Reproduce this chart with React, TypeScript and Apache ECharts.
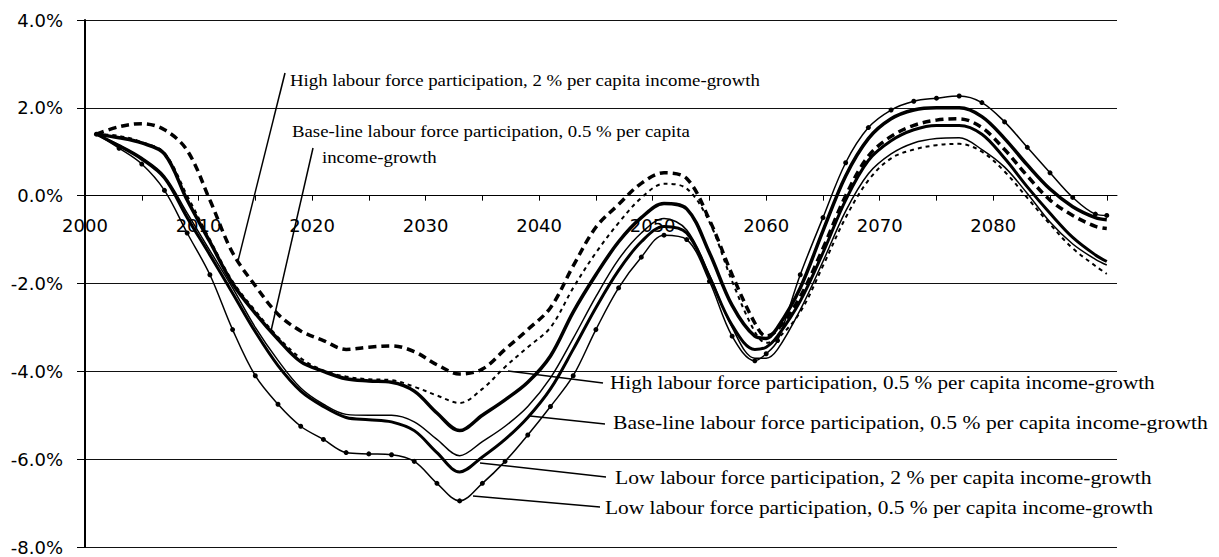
import React, { useEffect, useRef } from "react";
import * as echarts from "echarts";

const years = [2001, 2003, 2005, 2007, 2009, 2011, 2013, 2015, 2017, 2019, 2021, 2023, 2025, 2027, 2029, 2031, 2033, 2035, 2037, 2039, 2041, 2043, 2045, 2047, 2049, 2051, 2053, 2055, 2057, 2059, 2060, 2061, 2063, 2065, 2067, 2069, 2071, 2073, 2075, 2077, 2079, 2081, 2083, 2085, 2087, 2089, 2090];

const highTwo = [1.40, 1.57, 1.64, 1.50, 1.03, -0.10, -1.30, -2.05, -2.70, -3.08, -3.30, -3.50, -3.45, -3.42, -3.55, -3.85, -4.06, -3.95, -3.50, -3.05, -2.55, -1.60, -0.72, -0.20, 0.28, 0.52, 0.39, -0.55, -1.80, -2.90, -3.20, -3.05, -2.30, -1.20, 0.00, 0.90, 1.35, 1.60, 1.72, 1.75, 1.55, 1.05, 0.45, -0.10, -0.45, -0.70, -0.75];
const highHalf = [1.40, 1.36, 1.22, 0.97, 0.00, -1.00, -1.95, -2.62, -3.22, -3.70, -3.98, -4.12, -4.18, -4.20, -4.35, -4.55, -4.72, -4.40, -3.90, -3.45, -3.00, -2.10, -1.30, -0.62, -0.05, 0.27, 0.16, -0.60, -1.95, -3.10, -3.35, -3.25, -2.65, -1.60, -0.50, 0.35, 0.85, 1.05, 1.15, 1.18, 1.00, 0.55, -0.05, -0.65, -1.20, -1.60, -1.78];
const baseUpper = [1.40, 1.32, 1.20, 0.95, -0.10, -1.05, -2.00, -2.68, -3.27, -3.78, -4.00, -4.17, -4.22, -4.25, -4.45, -4.95, -5.35, -5.00, -4.65, -4.25, -3.65, -2.65, -1.80, -1.05, -0.50, -0.18, -0.30, -1.30, -2.50, -3.20, -3.25, -3.00, -2.10, -0.80, 0.45, 1.30, 1.75, 1.95, 2.00, 2.00, 1.80, 1.30, 0.70, 0.15, -0.25, -0.50, -0.55];
const baseLower = [1.40, 1.16, 0.87, 0.45, -0.40, -1.25, -2.10, -3.00, -3.75, -4.38, -4.75, -4.98, -5.00, -5.00, -5.15, -5.55, -5.92, -5.60, -5.25, -4.80, -4.15, -3.25, -2.30, -1.45, -0.85, -0.52, -0.78, -1.80, -3.00, -3.70, -3.70, -3.50, -2.60, -1.50, -0.35, 0.50, 0.95, 1.20, 1.30, 1.32, 1.05, 0.65, 0.05, -0.60, -1.10, -1.45, -1.58];
const lowTwo = [1.40, 1.13, 0.83, 0.40, -0.50, -1.35, -2.22, -3.10, -3.87, -4.45, -4.80, -5.05, -5.10, -5.15, -5.35, -5.85, -6.29, -5.95, -5.55, -5.05, -4.40, -3.50, -2.55, -1.70, -1.05, -0.70, -0.85, -1.85, -2.95, -3.50, -3.45, -3.20, -2.40, -1.30, -0.10, 0.80, 1.25, 1.50, 1.60, 1.60, 1.40, 0.85, 0.20, -0.40, -0.95, -1.35, -1.50];
const lowHalf = [1.40, 1.08, 0.72, 0.12, -0.85, -1.80, -3.05, -4.10, -4.75, -5.25, -5.55, -5.85, -5.88, -5.90, -6.05, -6.55, -6.95, -6.55, -6.05, -5.45, -4.80, -4.10, -3.05, -2.10, -1.40, -0.90, -1.00, -1.95, -3.20, -3.76, -3.60, -3.30, -1.80, -0.50, 0.75, 1.55, 1.95, 2.15, 2.22, 2.27, 2.12, 1.68, 1.10, 0.52, -0.04, -0.42, -0.45];

const xLabelYears = [2000, 2010, 2020, 2030, 2040, 2050, 2060, 2070, 2080];
const xTickYears = [2005, 2010, 2015, 2020, 2025, 2030, 2035, 2040, 2045, 2050, 2055, 2060, 2065, 2070, 2075, 2080, 2085, 2090];

const labelHigh2 = "High labour force participation, 2 % per capita income-growth";
const labelBaseTop1 = "Base-line labour force participation, 0.5 % per capita";
const labelBaseTop2 = "income-growth";
const labelHigh05 = "High labour force participation, 0.5 % per capita income-growth";
const labelBase05 = "Base-line labour force participation, 0.5 % per capita income-growth";
const labelLow2 = "Low labour force participation, 2 % per capita income-growth";
const labelLow05 = "Low labour force participation, 0.5 % per capita income-growth";

const SERIF = '"Liberation Serif", "Times New Roman", serif';
const SANS = '"DejaVu Sans", Arial, sans-serif';

export default function App() {
  const ref = useRef<HTMLDivElement>(null);
  useEffect(() => {
    const chart = echarts.init(ref.current!, null, { renderer: "svg" });
    const pts = (vals: number[]) => years.map((y, i) => [y, vals[i]]);
    const mk = (name: string, vals: number[], width: number, type: any, symbol?: string) => ({
      name,
      type: "line",
      data: pts(vals),
      smooth: 0.35,
      showSymbol: !!symbol,
      symbol: symbol || "none",
      symbolSize: 5,
      itemStyle: { color: "#000" },
      lineStyle: { color: "#000", width, type },
      z: 3,
    });
    const txt = (text: string, x: number, y: number, size: number, sx: number) => ({
      type: "text",
      x,
      y,
      scaleX: sx,
      style: { text, font: `${size}px ${SERIF}`, fill: "#000", align: "left", verticalAlign: "middle" },
      z: 10,
    });
    const ln = (x1: number, y1: number, x2: number, y2: number) => ({
      type: "line",
      shape: { x1, y1, x2, y2 },
      style: { stroke: "#000", lineWidth: 1.5 },
      z: 10,
    });
    chart.setOption({
      animation: false,
      backgroundColor: "#fff",
      grid: { left: 85, right: 102, top: 20, bottom: 10, containLabel: false, outerBoundsMode: "none" },
      xAxis: {
        type: "value",
        min: 2000,
        max: 2090.9,
        position: "bottom",
        offset: -351.33,
        axisLine: { show: true, onZero: false, lineStyle: { color: "#000", width: 1 } },
        axisTick: { show: true, customValues: xTickYears, length: 5, inside: false, lineStyle: { color: "#000", width: 1 } },
        axisLabel: {
          customValues: xLabelYears,
          margin: 21,
          color: "#000",
          fontSize: 18,
          fontFamily: SANS,
          formatter: (v: number) => String(Math.round(v)),
        },
        splitLine: { show: false },
      },
      yAxis: {
        type: "value",
        min: -8,
        max: 4,
        interval: 2,
        axisLine: { show: true, onZero: false, lineStyle: { color: "#000", width: 2 } },
        axisTick: { show: true, length: 8, lineStyle: { color: "#000" } },
        axisLabel: {
          margin: 22,
          color: "#000",
          fontSize: 18,
          fontFamily: SANS,
          formatter: (v: number) => v.toFixed(1) + "%",
        },
        splitLine: { show: true, lineStyle: { color: "#111", width: 1 } },
      },
      series: [
        mk(labelHigh2, highTwo, 3.5, [8, 5]),
        mk(labelHigh05, highHalf, 2, [4, 4]),
        mk(labelBase05 + " (upper)", baseUpper, 3.5, "solid"),
        mk(labelBase05, baseLower, 1.5, "solid"),
        mk(labelLow2, lowTwo, 3, "solid"),
        mk(labelLow05, lowHalf, 1.5, "solid", "circle"),
      ],
      graphic: [
        txt(labelHigh2, 290, 81, 16, 1.175),
        txt(labelBaseTop1, 292, 132, 16, 1.175),
        txt(labelBaseTop2, 322, 158, 16, 1.175),
        txt(labelHigh05, 610, 383, 18, 1.175),
        txt(labelBase05, 613, 423, 18, 1.2),
        txt(labelLow2, 615, 478, 18, 1.2),
        txt(labelLow05, 605, 508, 18, 1.19),
        ln(285, 73, 238, 261),
        ln(313, 148, 271, 331),
        ln(603, 383, 508, 371),
        ln(605, 424, 530, 416),
        ln(606, 477, 480, 463),
        ln(600, 507, 473, 496),
      ],
    });
    return () => chart.dispose();
  }, []);
  return (
    <div
      ref={ref}
      style={{ position: "fixed", left: 0, top: 0, width: 1219, height: 557, background: "#fff" }}
    />
  );
}
